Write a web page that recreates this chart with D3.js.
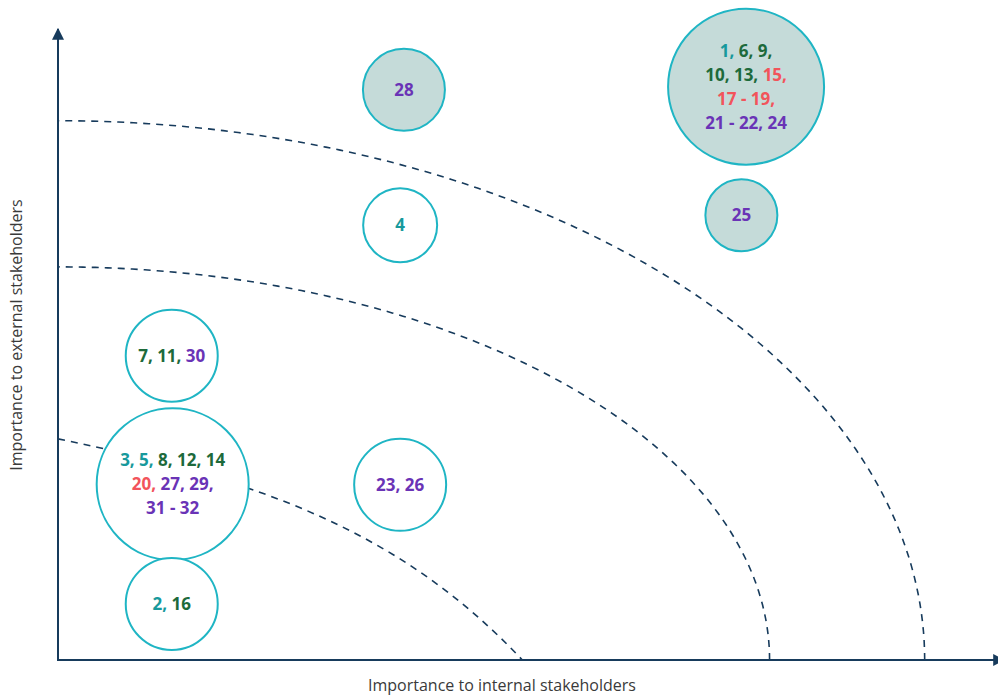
<!DOCTYPE html>
<html>
<head>
<meta charset="utf-8">
<script src="https://cdn.jsdelivr.net/npm/d3@7"></script>
<style>
  html, body { margin: 0; padding: 0; background: #fff; }
  svg { display: block; font-family: "Open Sans", "Noto Sans", sans-serif; }
</style>
</head>
<body>
<svg id="chart" width="998" height="696"></svg>
<script>
// Materiality topics: position = importance to internal (x) / external (y) stakeholders
const bubbleIds      = ["A", "B", "C", "D", "E", "F", "G", "H"];
const internalScore  = [7.32, 3.68, 3.64, 7.27, 1.21, 1.22, 1.21, 3.64];
const externalScore  = [9.10, 9.05, 6.90, 7.06, 4.83, 2.79, 0.89, 2.78];
const bubbleSize     = [78, 41, 37, 36, 46, 76, 46, 46];
const highlighted    = [true, true, false, true, false, false, false, false];

// Label lines per bubble: each segment is [text, group]
const bubbleLabels = [
  [[["1, ", "t"], ["6, 9,", "g"]], [["10, 13, ", "g"], ["15,", "r"]], [["17 - 19,", "r"]], [["21 - 22, 24", "p"]]],
  [[["28", "p"]]],
  [[["4", "t"]]],
  [[["25", "p"]]],
  [[["7, 11, ", "g"], ["30", "p"]]],
  [[["3, 5, ", "t"], ["8, 12, 14", "g"]], [["20, ", "r"], ["27, 29,", "p"]], [["31 - 32", "p"]]],
  [[["2, ", "t"], ["16", "g"]]],
  [[["23, 26", "p"]]]
];

// Priority bands. Inner band: cubic curve control points (data units).
const innerBand = [[0, 3.51], [2.13, 2.86], [3.64, 2.06], [4.94, 0]];
// Middle and outer bands: quarter ellipses with these axis intercepts
const bandInternal = [7.57, 9.22];
const bandExternal = [6.24, 8.56];

const axisTitles = ["Importance to internal stakeholders", "Importance to external stakeholders"];

const groupColor = { t: "#17999c", g: "#1d6a3b", r: "#f2545b", p: "#6a33b6" };
const navy = "#173b5c";
const ring = "#1fb5c4";

const svg = d3.select("#chart");
const x = d3.scaleLinear().domain([0, 10]).range([58, 998]);
const y = d3.scaleLinear().domain([0, 10]).range([660, 30]);
const r = d3.scaleLinear().domain([0, 100]).range([0, 100]);

// Arrow heads
const defs = svg.append("defs");
defs.append("marker")
  .attr("id", "arrow").attr("viewBox", "0 0 10 10")
  .attr("refX", 9).attr("refY", 5)
  .attr("markerWidth", 6).attr("markerHeight", 6)
  .attr("markerUnits", "strokeWidth")
  .attr("orient", "auto")
  .append("path").attr("d", "M0,0 L10,5 L0,10 Z").attr("fill", navy);

const dashStyle = sel => sel
  .attr("fill", "none")
  .attr("stroke", navy)
  .attr("stroke-width", 1.6)
  .attr("stroke-dasharray", "7,6");

// Inner band
const p = d3.path();
const c = innerBand.map(d => [x(d[0]), y(d[1])]);
p.moveTo(c[0][0], c[0][1]);
p.bezierCurveTo(c[1][0], c[1][1], c[2][0], c[2][1], c[3][0], c[3][1]);
svg.append("path").attr("d", p.toString()).call(dashStyle);

// Middle and outer bands
const bandLine = d3.line().x(d => d[0]).y(d => d[1]);
bandInternal.forEach((ax, i) => {
  const ay = bandExternal[i];
  const pts = d3.range(0, 91).map(deg => {
    const t = deg * Math.PI / 180;
    return [x(ax * Math.cos(t)), y(ay * Math.sin(t))];
  });
  svg.append("path").attr("d", bandLine(pts)).call(dashStyle);
});

// Axes
svg.append("line")
  .attr("x1", x(0)).attr("y1", y(0)).attr("x2", x(0)).attr("y2", 29)
  .attr("stroke", navy).attr("stroke-width", 2)
  .attr("marker-end", "url(#arrow)");
svg.append("line")
  .attr("x1", x(0) - 1).attr("y1", y(0)).attr("x2", 1004).attr("y2", y(0))
  .attr("stroke", navy).attr("stroke-width", 2)
  .attr("marker-end", "url(#arrow)");

svg.append("text")
  .attr("x", 502).attr("y", 691)
  .attr("text-anchor", "middle")
  .attr("font-size", 16).attr("fill", "#3a3a3a")
  .text(axisTitles[0]);
svg.append("text")
  .attr("transform", `translate(22, ${335}) rotate(-90)`)
  .attr("text-anchor", "middle")
  .attr("font-size", 16).attr("fill", "#3a3a3a")
  .text(axisTitles[1]);

// Bubbles
const nodes = bubbleIds.map((id, i) => ({
  id, xi: internalScore[i], ye: externalScore[i], s: bubbleSize[i],
  hl: highlighted[i], lines: bubbleLabels[i]
}));

const g = svg.append("g").selectAll("g").data(nodes).join("g")
  .attr("transform", d => `translate(${x(d.xi)},${y(d.ye)})`);

g.append("circle")
  .attr("r", d => r(d.s))
  .attr("fill", d => d.hl ? "#c5dbd9" : "#ffffff")
  .attr("stroke", ring)
  .attr("stroke-width", 2);

const lineGap = 24;
g.each(function(d) {
  const n = d.lines.length;
  const t = d3.select(this).append("text")
    .attr("text-anchor", "middle")
    .attr("font-size", 17)
    .attr("font-weight", 700);
  d.lines.forEach((segs, li) => {
    const ly = (li - (n - 1) / 2) * lineGap + 6;
    segs.forEach((seg, si) => {
      const ts = t.append("tspan")
        .attr("fill", groupColor[seg[1]])
        .text(seg[0]);
      if (si === 0) ts.attr("x", 0).attr("y", ly);
    });
  });
});
</script>
</body>
</html>
